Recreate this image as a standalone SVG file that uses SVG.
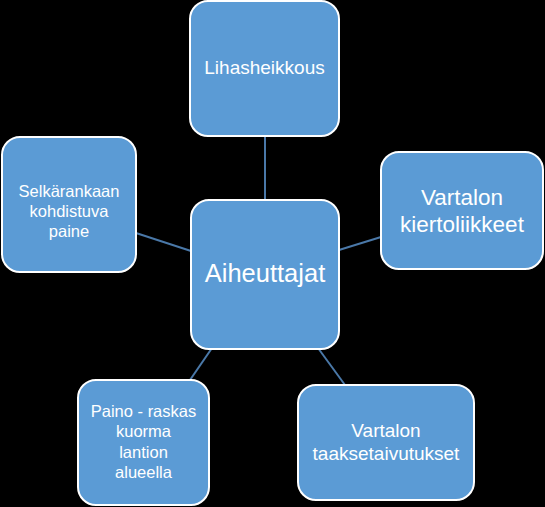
<svg xmlns="http://www.w3.org/2000/svg" width="545" height="507" viewBox="0 0 545 507">
<style>
.box{fill:#5B9BD5;stroke:#FFFFFF;stroke-width:2}
.t{fill:#FFFFFF;font-family:"Liberation Sans",Arial,sans-serif;text-anchor:middle}
.c{stroke:#4A78A8;stroke-width:2;fill:none}
</style>
<rect width="545" height="507" fill="#000000"/>
<g id="connectors">
<line class="c" x1="265" y1="136" x2="265" y2="200"/>
<line class="c" x1="136" y1="233" x2="191" y2="251"/>
<line class="c" x1="339" y1="250" x2="381" y2="237"/>
<line class="c" x1="190" y1="380" x2="212" y2="348"/>
<line class="c" x1="318" y1="348" x2="345" y2="385"/>
</g>
<g id="node-lihasheikkous">
<rect class="box" x="190" y="1" width="149" height="135" rx="18"/>
<text class="t" x="264.5" y="74" font-size="19">Lihasheikkous</text>
</g>
<g id="node-aiheuttajat">
<rect class="box" x="191" y="200" width="148" height="149" rx="18"/>
<text class="t" x="265" y="282" font-size="25.5">Aiheuttajat</text>
</g>
<g id="node-selkarankaan">
<rect class="box" x="2" y="137" width="134" height="135" rx="18"/>
<text class="t" x="69" y="197" font-size="16.5">Selkärankaan</text>
<text class="t" x="69" y="217" font-size="16.5">kohdistuva</text>
<text class="t" x="69" y="237" font-size="16.5">paine</text>
</g>
<g id="node-kiertoliikkeet">
<rect class="box" x="381" y="152" width="162" height="117" rx="18"/>
<text class="t" x="462" y="205" font-size="22.5">Vartalon</text>
<text class="t" x="462" y="232" font-size="22.5">kiertoliikkeet</text>
</g>
<g id="node-paino">
<rect class="box" x="78" y="380" width="131" height="125" rx="18"/>
<text class="t" x="143.5" y="417" font-size="16.5">Paino - raskas</text>
<text class="t" x="143.5" y="437" font-size="16.5">kuorma</text>
<text class="t" x="143.5" y="458" font-size="16.5">lantion</text>
<text class="t" x="143.5" y="478" font-size="16.5">alueella</text>
</g>
<g id="node-taaksetaivutukset">
<rect class="box" x="298" y="385" width="176" height="115" rx="18"/>
<text class="t" x="386" y="437" font-size="19">Vartalon</text>
<text class="t" x="386" y="460" font-size="19">taaksetaivutukset</text>
</g>
</svg>
